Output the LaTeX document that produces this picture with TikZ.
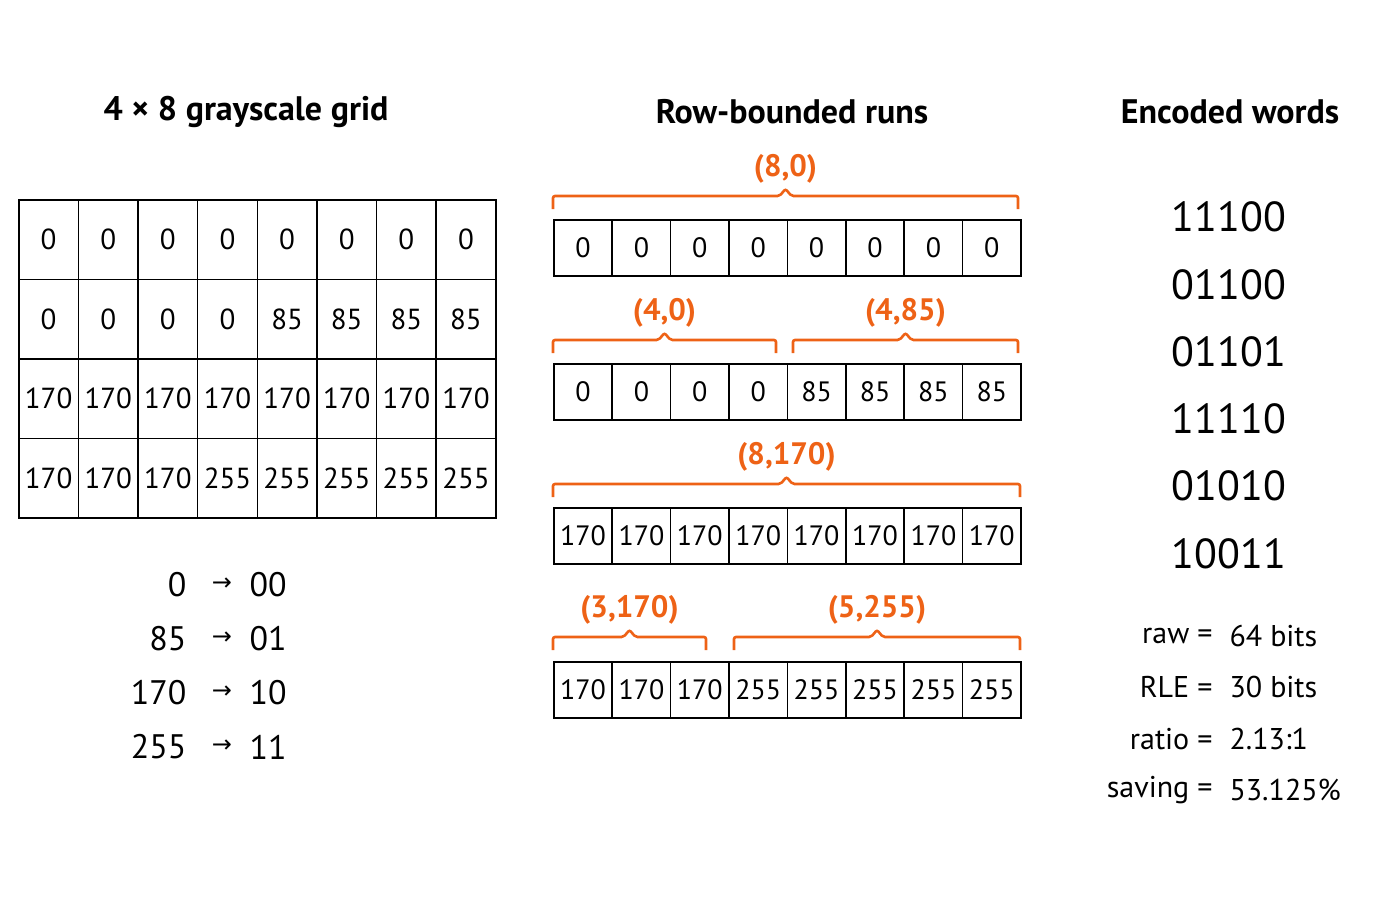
\documentclass[tikz,border=0pt]{standalone}
\usepackage{fontspec}
\setmainfont{PT Sans}
\newfontfamily\dvs{DejaVu Sans}
\begin{document}
\begin{tikzpicture}[x=1pt,y=-1pt,
 cell/.style={draw,line width=1.6pt,minimum width=#1,inner sep=0,anchor=north west},
 orange/.style={color={rgb,255:red,238;green,98;blue,22}},
 brace/.style={orange,draw,line width=2.6pt,rounded corners=2pt}]
\useasboundingbox (0,0) rectangle (1400,900);
% titles
\node[font=\bfseries\fontsize{34}{34}\selectfont] (t1) at (246,112) {4 × 8 grayscale grid};
\node[font=\bfseries\fontsize{34}{34}\selectfont] (t2) at (792,112) {Row-bounded runs};
\node[font=\bfseries\fontsize{34}{34}\selectfont] (t3) at (1230,112) {Encoded words};
% left grid
\def\gw{59.625}\def\gh{79.5}
\foreach \r/\vals in {0/{0,0,0,0,0,0,0,0},1/{0,0,0,0,85,85,85,85},2/{170,170,170,170,170,170,170,170},3/{170,170,170,255,255,255,255,255}}{
 \foreach \v [count=\c from 0] in \vals {
  \node[cell=\gw pt,minimum height=\gh pt,font=\fontsize{29}{29}\selectfont] (g\r\c) at (18+\c*\gw,199+\r*\gh) {\v};
 }}
% mapping
\foreach \a/\b [count=\i from 0] in {0/00,85/01,170/10,255/11}{
 \node[anchor=east,font=\fontsize{34}{34}\selectfont] (ma\i) at (190,585+\i*54) {\a};
 \node[font=\dvs\fontsize{24}{24}\selectfont] (mr\i) at (222,584+\i*54) {→};
 \node[anchor=west,font=\fontsize{34}{34}\selectfont] (mb\i) at (246,585+\i*54) {\b};
}
% middle rows
\def\mw{58.4}
\foreach \r/\y/\vals in {0/219/{0,0,0,0,0,0,0,0},1/363/{0,0,0,0,85,85,85,85},2/507/{170,170,170,170,170,170,170,170},3/661/{170,170,170,255,255,255,255,255}}{
 \foreach \v [count=\c from 0] in \vals {
  \node[cell=\mw pt,minimum height=56pt,font=\fontsize{28}{28}\selectfont] (m\r\c) at (553+\c*\mw,\y) {\v};
 }}
% braces
\foreach \n/\xa/\xb/\y/\lab in {b1/553/1018/209/{(8,0)},b2/553/776/353/{(4,0)},b3/793/1018/353/{(4,85)},b4/553/1020/497/{(8,170)},b5/553/706/650/{(3,170)},b6/734/1020/650/{(5,255)}}{
 \pgfmathsetmacro\mid{(\xa+\xb)/2}
 \draw[brace] (\xa,\y) -- (\xa,\y-13) -- (\mid-6,\y-13) -- (\mid,\y-20) -- (\mid+6,\y-13) -- (\xb,\y-13) -- (\xb,\y);
 \node[orange,font=\bfseries\fontsize{31}{31}\selectfont] (\n) at (\mid,\y-40) {\lab};
}
% encoded
\foreach \w [count=\i from 0] in {11100,01100,01101,11110,01010,10011}{
 \node[font=\fontsize{42}{42}\selectfont] (e\i) at (1229,217+\i*67.3) {\w};
}
% stats
\foreach \a/\b [count=\i from 0] in {raw/64 bits,RLE/30 bits,ratio/2.13:1,saving/53.125\%}{
 \node[anchor=east,font=\fontsize{30}{30}\selectfont] (sa\i) at (1216,636+\i*51.3) {\a\ =};
 \node[anchor=west,font=\fontsize{30}{30}\selectfont] (sb\i) at (1226,636+\i*51.3) {\b};
}
\end{tikzpicture}
\end{document}
